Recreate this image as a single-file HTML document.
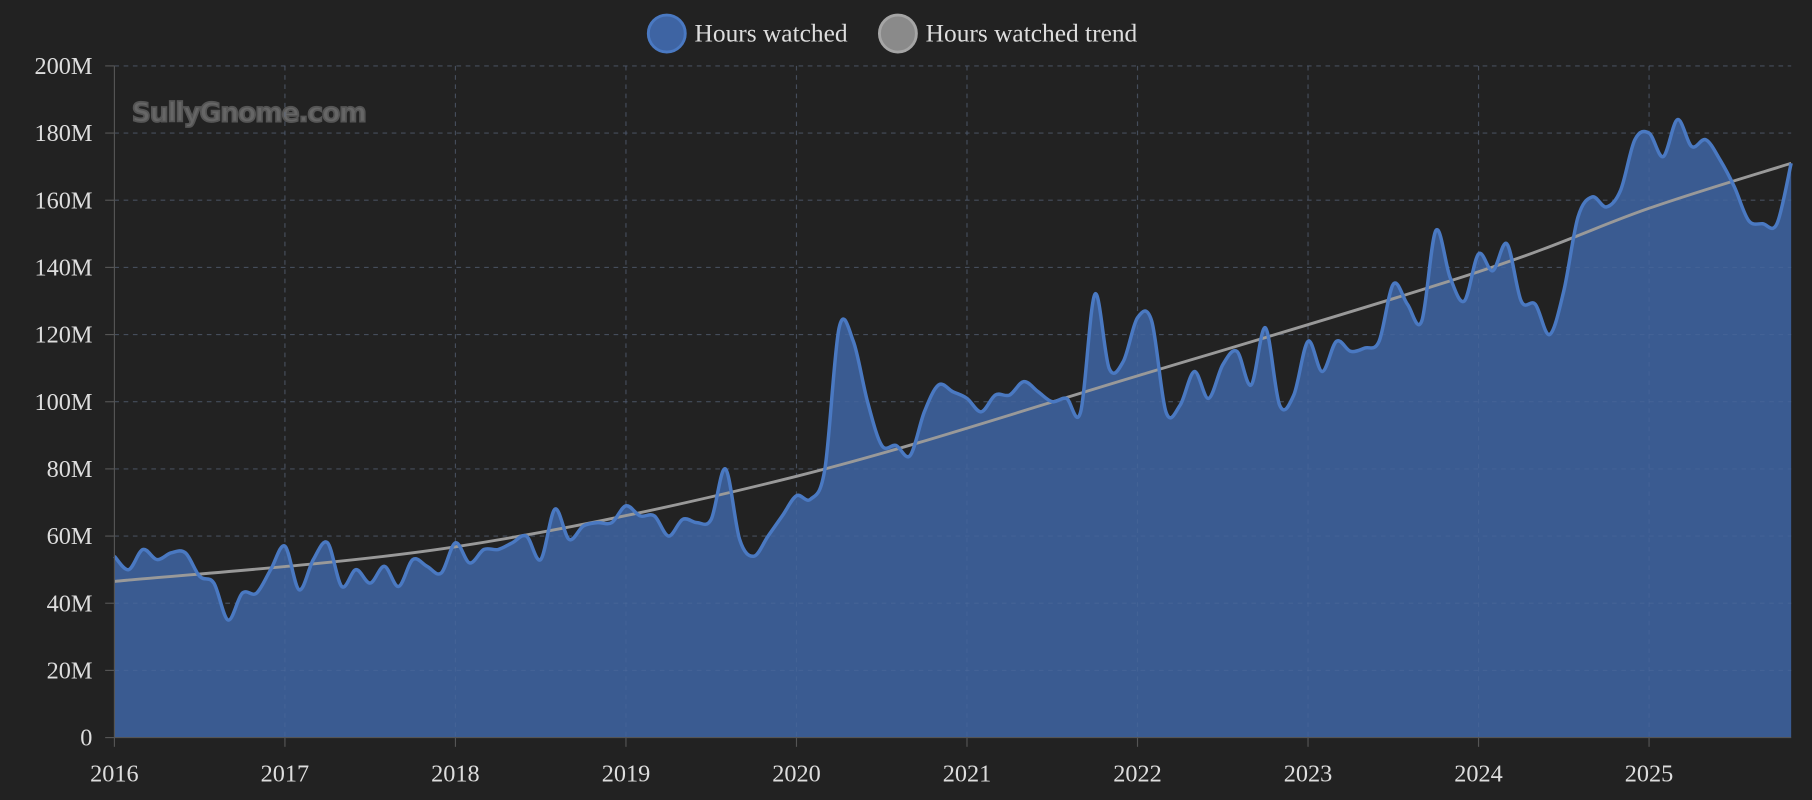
<!DOCTYPE html>
<html><head><meta charset="utf-8"><style>
html,body{margin:0;padding:0;background:#222;width:1812px;height:800px;overflow:hidden}
svg{display:block}
</style></head><body>
<svg id="s" width="1812" height="800" viewBox="0 0 1568 692" preserveAspectRatio="none" xmlns="http://www.w3.org/2000/svg">
<rect width="1568" height="692" fill="#222"/>
<g id="grid"></g>
<text x="114" y="105" font-family="DejaVu Sans, sans-serif" font-weight="bold" font-size="23" fill="#666" stroke="#555" stroke-width="1.5" style="letter-spacing:-1px">SullyGnome.com</text>
<path id="area" fill="#3a5b91" stroke="none"/>
<g id="grid2"></g>
<path id="trend" fill="none" stroke="#999" stroke-width="2.5"/>
<path id="line" fill="none" stroke="#4a79c2" stroke-width="3"/>
<g id="axes"></g>
<circle cx="577" cy="29" r="16" fill="#3e64a3" stroke="#4a79c2" stroke-width="2.5"/>
<text x="601" y="36" font-family="Liberation Serif, serif" font-size="22" fill="#ddd">Hours watched</text>
<circle cx="777" cy="29" r="16" fill="#8a8a8a" stroke="#a5a5a5" stroke-width="2.5"/>
<text x="801" y="36" font-family="Liberation Serif, serif" font-size="22" fill="#ddd">Hours watched trend</text>
</svg>
<script>
const d=[54,50,56,53,55,55,48,46,35,43,43,50,
57,44,53,58,45,50,46,51,45,53,51,49,
58,52,56,56,58,60,53,68,59,63,64,64,
69,66,66,60,65,64,65,80,59,54,60,66,
72,71,80,122,118,100,87,87,84,97,105,103,
101,97,102,102,106,103,100,101,97,132,110,112,
125,124,97,99,109,101,111,115,105,122,99,102,
118,109,118,115,116,118,135,129,124,151,137,130,
144,139,147,130,129,120,133,155,161,158,163,178,
180,173,184,176,178,172,164,154,153,153,171];
const X0=99,YW=(1427-99)/9,Y0=638,YS=(638-57)/200;
const px=i=>X0+i*YW/12, py=v=>Y0-v*YS;
function spline(P){let s=`M${P[0][0]},${P[0][1]}`;
for(let i=0;i<P.length-1;i++){const p0=P[Math.max(0,i-1)],p1=P[i],p2=P[i+1],p3=P[Math.min(P.length-1,i+2)];
const t=1/6;s+=` C${p1[0]+(p2[0]-p0[0])*t},${p1[1]+(p2[1]-p0[1])*t} ${p2[0]-(p3[0]-p1[0])*t},${p2[1]-(p3[1]-p1[1])*t} ${p2[0]},${p2[1]}`;}return s;}
const P=d.map((v,i)=>[px(i),py(v)]);
const s=spline(P);
document.getElementById('line').setAttribute('d',s);
const last=P[P.length-1];
document.getElementById('area').setAttribute('d',s+` L${last[0]},${Y0} L${X0},${Y0} Z`);
const T=[[0,46.5],[2,56.8],[4,77.8],[6,107.7],[8,138.7],[9,157.6],[118/12,171]];
document.getElementById('trend').setAttribute('d',spline(T.map(p=>[px(p[0]*12),py(p[1])])));
const R=last[0];let g='',g2='',a='';
for(let k=0;k<=10;k++){const y=py(k*20);
if(k>0){g+=`<line x1="${X0}" x2="${R}" y1="${y}" y2="${y}" stroke="#3d3d3d" stroke-dasharray="4,4"/>`;g2+=`<line x1="${X0}" x2="${R}" y1="${y}" y2="${y}" stroke="#5a75a3" stroke-opacity="0.3" stroke-dasharray="4,4"/>`;}
a+=`<line x1="91" x2="99" y1="${y}" y2="${y}" stroke="#555"/><text x="80" y="${y+7}" text-anchor="end" font-family="Liberation Serif, serif" font-size="21" fill="#ddd">${k?k*20+'M':'0'}</text>`;}
for(let yy=0;yy<10;yy++){const x=X0+yy*YW;
if(yy>0){g+=`<line x1="${x}" x2="${x}" y1="57" y2="${Y0}" stroke="#3d3d3d" stroke-dasharray="4,4"/>`;g2+=`<line x1="${x}" x2="${x}" y1="57" y2="${Y0}" stroke="#5a75a3" stroke-opacity="0.3" stroke-dasharray="4,4"/>`;}
a+=`<line x1="${x}" x2="${x}" y1="${Y0}" y2="${Y0+8}" stroke="#555"/><text x="${x}" y="${Y0+38}" text-anchor="middle" font-family="Liberation Serif, serif" font-size="21" fill="#ddd">${2016+yy}</text>`;}
a+=`<line x1="${X0}" x2="${X0}" y1="57" y2="${Y0}" stroke="#555"/><line x1="${X0}" x2="${R}" y1="${Y0}" y2="${Y0}" stroke="#555"/>`;
document.getElementById('grid').innerHTML=g;document.getElementById('grid2').innerHTML=g2;document.getElementById('axes').innerHTML=a;
</script>
</body></html>
